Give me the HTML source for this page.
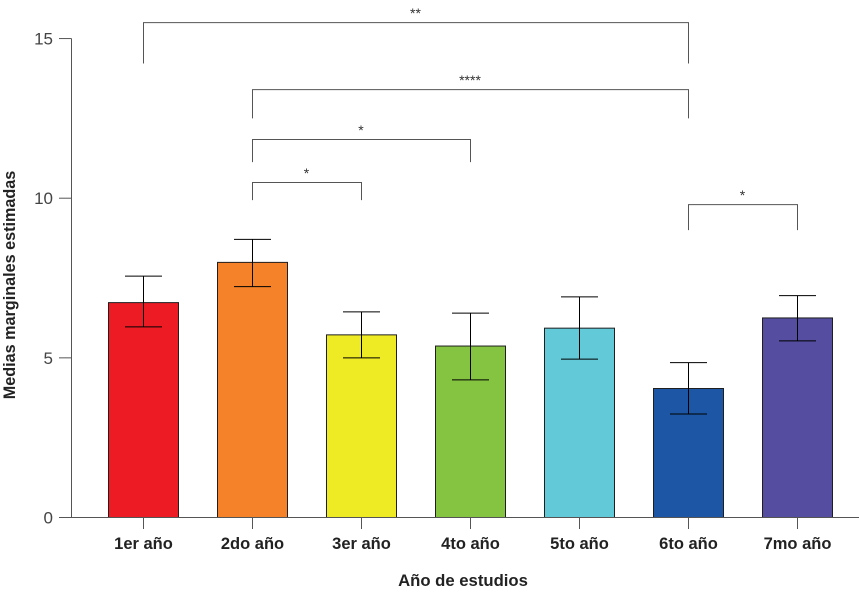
<!DOCTYPE html>
<html lang="es">
<head>
<meta charset="utf-8">
<title>Medias marginales estimadas por año de estudios</title>
<style>
  html, body { margin: 0; padding: 0; background: #fff; }
  svg { display: block; font-family: "Liberation Sans", Arial, sans-serif; }
</style>
</head>
<body>
<svg id="chart" xmlns="http://www.w3.org/2000/svg" width="859" height="598" viewBox="0 0 859 598"></svg>
<script>
const categories = ['1er año', '2do año', '3er año', '4to año', '5to año', '6to año', '7mo año'];
const means = [6.73, 7.99, 5.72, 5.37, 5.93, 4.04, 6.25];
const errorHigh = [7.56, 8.71, 6.44, 6.40, 6.91, 4.85, 6.95];
const errorLow = [5.97, 7.23, 5.00, 4.31, 4.96, 3.24, 5.53];
const barColors = ['#ed1c24', '#f58229', '#eeea23', '#84c441', '#62c9d9', '#1d56a5', '#544da0'];
const yTicks = [0, 5, 10, 15];
const sigLabels = ['**', '****', '*', '*', '*'];
const sigFrom = [0, 1, 1, 1, 5];
const sigTo = [5, 5, 3, 2, 6];
const sigTop = [15.50, 13.40, 11.84, 10.49, 9.80];
const sigLegEndFrom = [14.22, 12.50, 11.13, 9.94, 9.00];
const sigLegEndTo = [14.22, 12.50, 11.13, 9.94, 9.00];

const yTitle = 'Medias marginales estimadas';
const xTitle = 'Año de estudios';

const svg = document.getElementById('chart');
const NS = 'http://www.w3.org/2000/svg';
const y = v => 517.5 - v * 31.93;
const x = i => 143.5 + i * 109;
const barWidth = 70;

function add(tag, attrs, text) {
  const el = document.createElementNS(NS, tag);
  for (const k in attrs) el.setAttribute(k, attrs[k]);
  if (text !== undefined) el.textContent = text;
  svg.appendChild(el);
  return el;
}
function line(x1, y1, x2, y2, stroke, w) {
  return add('line', { x1, y1, x2, y2, stroke, 'stroke-width': w });
}

// bars
categories.forEach((c, i) => {
  const r = add('rect', { x: x(i) - barWidth / 2, y: y(means[i]), width: barWidth, height: y(0) - y(means[i]), fill: barColors[i], stroke: '#1f1f1f', 'stroke-width': 1 });
  
  
});

// axes
const yAxis = line(71.5, y(15), 71.5, y(0), '#555', 1);


const xAxis = line(59, y(0), 859, y(0), '#555', 1);



yTicks.forEach(t => {
  const tick = line(59, y(t), 71.5, y(t), '#555', 1);
  
  
  const lab = add('text', { x: 53, y: y(t) + 6, 'text-anchor': 'end', 'font-size': 17, fill: '#444' }, String(t));
  
  
});

categories.forEach((c, i) => {
  const tick = line(x(i), y(0), x(i), 529, '#555', 1);
  
  
  const lab = add('text', { x: x(i), y: 549, 'text-anchor': 'middle', 'font-size': 16.5, 'font-weight': 'bold', fill: '#222' }, c);
  
  
});

// error bars
categories.forEach((c, i) => {
  const stem = line(x(i), y(errorHigh[i]), x(i), y(errorLow[i]), '#000', 1);
  
  
  const hi = line(x(i) - 18.5, y(errorHigh[i]), x(i) + 18.5, y(errorHigh[i]), '#000', 1);
  
  
  const lo = line(x(i) - 18.5, y(errorLow[i]), x(i) + 18.5, y(errorLow[i]), '#000', 1);
  
  
});

// significance brackets
sigLabels.forEach((s, i) => {
  const x1 = x(sigFrom[i]), x2 = x(sigTo[i]);
  const p = add('polyline', { points: [x1, y(sigLegEndFrom[i]), x1, y(sigTop[i]), x2, y(sigTop[i]), x2, y(sigLegEndTo[i])].join(' '), fill: 'none', stroke: '#555', 'stroke-width': 1 });
  
  
  const t = add('text', { x: (x1 + x2) / 2 - 0.5, y: y(sigTop[i]) - 4.5, 'text-anchor': 'middle', 'font-size': 14, fill: '#333' }, s);
  
  
});

// axis titles
const xt = add('text', { x: 463, y: 586, 'text-anchor': 'middle', 'font-size': 16.7, 'font-weight': 'bold', fill: '#222' }, xTitle);


const yt = add('text', { x: 0, y: 0, transform: 'translate(15,285) rotate(-90)', 'text-anchor': 'middle', 'font-size': 16.2, 'font-weight': 'bold', fill: '#222' }, yTitle);


</script>
</body>
</html>
